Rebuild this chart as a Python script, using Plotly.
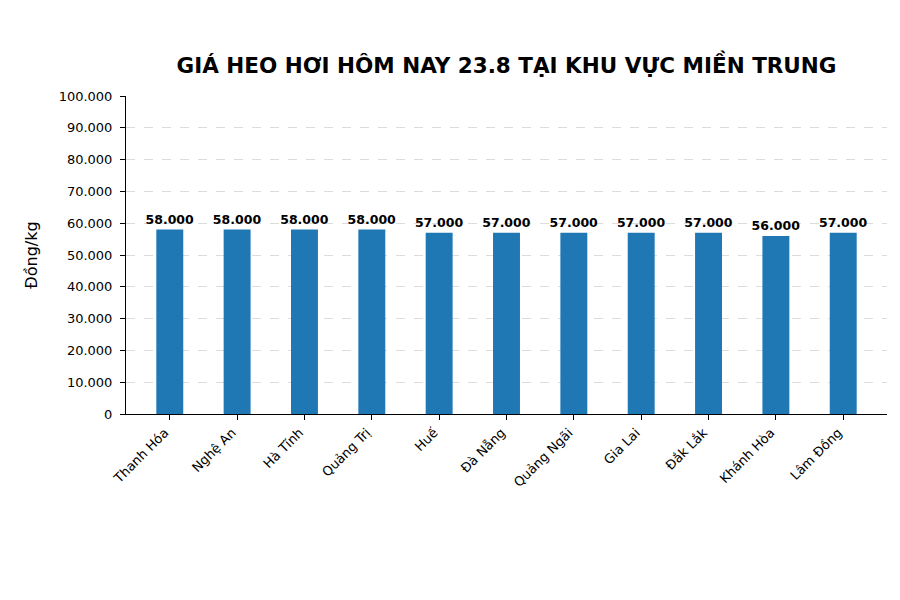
import plotly.graph_objects as go

provinces = ["Thanh Hóa", "Nghệ An", "Hà Tĩnh", "Quảng Trị", "Huế", "Đà Nẵng",
             "Quảng Ngãi", "Gia Lai", "Đắk Lắk", "Khánh Hòa", "Lâm Đồng"]
prices = [58000, 58000, 58000, 58000, 57000, 57000, 57000, 57000, 57000, 56000, 57000]
y_ticks = [0, 10000, 20000, 30000, 40000, 50000, 60000, 70000, 80000, 90000, 100000]

font_name = "DejaVu Sans"

bar = go.Bar(
    x=list(range(len(provinces))),
    y=prices,
    width=0.4,
    marker=dict(color="#1f77b4", line=dict(width=0)),
    texttemplate="%{y:,}",
    textposition="outside",
    textangle=0,
    constraintext="none",
    textfont=dict(family=font_name, size=12.5, color="black", weight="bold"),
    cliponaxis=False,
)

# page body adds an 8px offset, so margins are shifted to compensate
layout = go.Layout(
    width=900,
    height=600,
    margin=go.layout.Margin(l=118, r=21, t=88, b=194, autoexpand=False),
    paper_bgcolor="white",
    plot_bgcolor="white",
    separators=",.",
    font=dict(family=font_name, size=13, color="black"),
    title=dict(
        text="<b>GIÁ HEO HƠI HÔM NAY 23.8 TẠI KHU VỰC MIỀN TRUNG</b>",
        x=0.5, xref="paper", xanchor="center",
        y=1 - 57 / 600, yref="container", yanchor="middle",
        font=dict(family=font_name, size=21.5, color="black"),
    ),
    xaxis=dict(
        tickmode="array",
        tickvals=list(range(len(provinces))),
        ticktext=provinces,
        tickangle=-45,
        range=[-0.65, 10.65],
        showgrid=False,
        zeroline=False,
        showline=True, linecolor="black", linewidth=1,
        ticks="outside", ticklen=5, tickcolor="black",
        ticklabelshift=-5,
        automargin=False,
    ),
    yaxis=dict(
        range=[0, 100000],
        tickmode="array",
        tickvals=y_ticks,
        tickformat=",d",
        showgrid=True, gridcolor="#dcdcdc", griddash="dash", gridwidth=0.8,
        zeroline=False,
        showline=True, linecolor="black", linewidth=1,
        ticks="outside", ticklen=5, tickcolor="black",
        ticklabelstandoff=5,
        automargin=False,
        title=dict(text="Đồng/kg", standoff=17, font=dict(family=font_name, size=16)),
    ),
    showlegend=False,
)

fig = go.Figure(data=[bar], layout=layout)
fig.write_html("out.html")
